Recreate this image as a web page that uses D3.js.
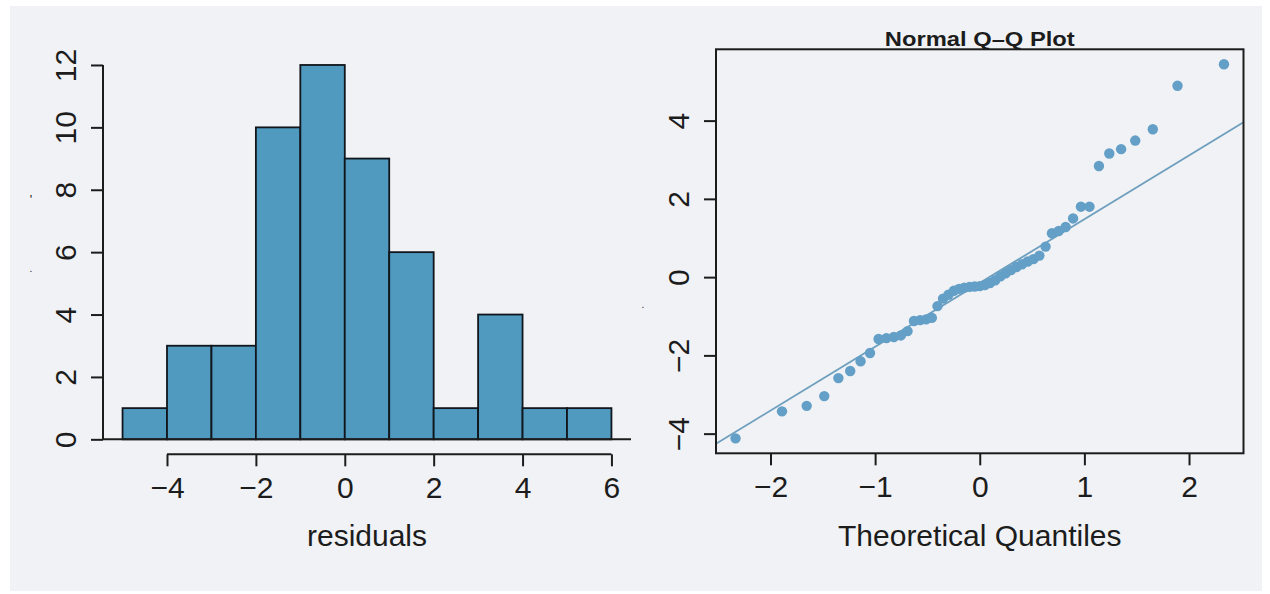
<!DOCTYPE html>
<html>
<head>
<meta charset="utf-8">
<script src="https://cdn.jsdelivr.net/npm/d3@7"></script>
<style>
  html, body { margin: 0; padding: 0; background: #ffffff; }
  svg { display: block; }
  text { font-family: "Liberation Sans", Arial, Helvetica, sans-serif; fill: #1c1c1c; }
</style>
</head>
<body>
<svg id="chart" width="1270" height="594"></svg>
<script>
// Histogram of residuals: bin edges and counts per bin
const binEdges = [-5, -4, -3, -2, -1, 0, 1, 2, 3, 4, 5, 6];
const binCounts = [1, 3, 3, 10, 12, 9, 6, 1, 4, 1, 1];
const histXTicks = [-4, -2, 0, 2, 4, 6];
const histYTicks = [0, 2, 4, 6, 8, 10, 12];

// Normal Q-Q plot: theoretical quantiles and sorted residuals
const qqTheoretical = [
  -2.334, -1.890, -1.654, -1.486, -1.351, -1.238, -1.139, -1.049, -0.967, -0.892,
  -0.821, -0.754, -0.690, -0.629, -0.570, -0.513, -0.458, -0.404, -0.351, -0.299,
  -0.248, -0.198, -0.148, -0.098, -0.049, 0.000, 0.049, 0.098, 0.148, 0.198,
  0.248, 0.299, 0.351, 0.404, 0.458, 0.513, 0.570, 0.629, 0.690, 0.754,
  0.821, 0.892, 0.967, 1.049, 1.139, 1.238, 1.351, 1.486, 1.654, 1.890, 2.334
];
const qqSample = [
  -4.12, -3.43, -3.29, -3.04, -2.58, -2.40, -2.15, -1.94, -1.58, -1.56,
  -1.53, -1.49, -1.38, -1.12, -1.10, -1.08, -1.04, -0.74, -0.55, -0.45,
  -0.35, -0.30, -0.27, -0.25, -0.24, -0.23, -0.20, -0.15, -0.08, 0.02,
  0.10, 0.18, 0.26, 0.33, 0.40, 0.46, 0.55, 0.78, 1.12, 1.18,
  1.28, 1.50, 1.80, 1.80, 2.84, 3.16, 3.27, 3.49, 3.78, 4.89, 5.44
];
const qqLine = { intercept: -0.15, slope: 1.63 };
const qqXTicks = [-2, -1, 0, 1, 2];
const qqYTicks = [-4, -2, 0, 2, 4];

const svg = d3.select("#chart");
const fmt = d3.format("");   // d3 v7 renders negatives with a true minus sign
const ink = "#1c1c1c";
const barFill = "#5099bf";
const pointFill = "#639fc6";
const lineColor = "#6e9fbf";
const tickFont = "30px";
const titleFont = "30px";

// Panel background
svg.append("rect")
  .attr("x", 10).attr("y", 6).attr("width", 1252).attr("height", 585)
  .attr("fill", "#f0f2f5");

// R-style 4% padded range
function padded(lo, hi) { const d = (hi - lo) * 0.04; return [lo - d, hi + d]; }

function styleTicks(g) {
  g.select(".domain").remove();
  g.selectAll(".tick line").attr("stroke", ink).attr("stroke-width", 2);
  g.selectAll(".tick text").attr("fill", ink).style("font-size", tickFont)
    .style("font-family", "'Liberation Sans', Arial, sans-serif");
}
function bottomLabels(g) {
  g.selectAll(".tick text").attr("dy", null).attr("y", 44);
}
function leftLabels(g) {
  g.selectAll(".tick text")
    .attr("x", null).attr("dy", null)
    .attr("text-anchor", "middle")
    .attr("transform", "translate(-27,0) rotate(-90)");
}

// ---------- Histogram ----------
const hx = d3.scaleLinear().domain(padded(binEdges[0], binEdges[binEdges.length - 1])).range([103, 631]);
const hy = d3.scaleLinear().domain(padded(0, d3.max(binCounts))).range([454.3, 50]);

const bins = binCounts.map((c, i) => ({ x0: binEdges[i], x1: binEdges[i + 1], n: c }));
const hist = svg.append("g");

hist.selectAll("rect.bar").data(bins).join("rect")
  .attr("class", "bar")
  .attr("x", d => hx(d.x0))
  .attr("y", d => hy(d.n))
  .attr("width", d => hx(d.x1) - hx(d.x0))
  .attr("height", d => hy(0) - hy(d.n))
  .attr("fill", barFill)
  .attr("stroke", "#10161c")
  .attr("stroke-width", 1.8);

// zero line across the plot region
hist.append("line")
  .attr("x1", hx.range()[0]).attr("x2", hx.range()[1])
  .attr("y1", hy(0)).attr("y2", hy(0))
  .attr("stroke", ink).attr("stroke-width", 2);

// x axis
const gHX = hist.append("g").attr("transform", `translate(0,${hy.range()[0]})`)
  .call(d3.axisBottom(hx).tickValues(histXTicks).tickSize(12).tickFormat(fmt));
styleTicks(gHX);
bottomLabels(gHX);
gHX.append("line")
  .attr("x1", hx(d3.min(histXTicks))).attr("x2", hx(d3.max(histXTicks)))
  .attr("stroke", ink).attr("stroke-width", 2);

// y axis
const gHY = hist.append("g").attr("transform", `translate(${hx.range()[0]},0)`)
  .call(d3.axisLeft(hy).tickValues(histYTicks).tickSize(12).tickFormat(fmt));
styleTicks(gHY);
leftLabels(gHY);
gHY.append("line")
  .attr("y1", hy(d3.min(histYTicks))).attr("y2", hy(d3.max(histYTicks)))
  .attr("stroke", ink).attr("stroke-width", 2);

hist.append("text")
  .attr("x", (hx(binEdges[0]) + hx(binEdges[binEdges.length - 1])) / 2)
  .attr("y", 546)
  .attr("text-anchor", "middle")
  .style("font-size", titleFont)
  .text("residuals");

// faint y-label remnants
svg.append("text").attr("x", 31).attr("y", 204).attr("text-anchor", "middle")
  .style("font-size", "13px").text("'");
svg.append("text").attr("x", 31).attr("y", 272).attr("text-anchor", "middle")
  .style("font-size", "10px").text(".");

// ---------- Normal Q-Q plot ----------
const qx = d3.scaleLinear().domain(padded(d3.min(qqTheoretical), d3.max(qqTheoretical))).range([716, 1243.5]);
const qy = d3.scaleLinear().domain(padded(d3.min(qqSample), d3.max(qqSample))).range([453.3, 49.3]);

const qq = svg.append("g");

qq.append("clipPath").attr("id", "qqclip").append("rect")
  .attr("x", qx.range()[0]).attr("y", qy.range()[1])
  .attr("width", qx.range()[1] - qx.range()[0])
  .attr("height", qy.range()[0] - qy.range()[1]);

const [lx0, lx1] = qx.domain();
qq.append("line")
  .attr("clip-path", "url(#qqclip)")
  .attr("x1", qx(lx0)).attr("y1", qy(qqLine.intercept + qqLine.slope * lx0))
  .attr("x2", qx(lx1)).attr("y2", qy(qqLine.intercept + qqLine.slope * lx1))
  .attr("stroke", lineColor).attr("stroke-width", 1.8);

qq.selectAll("circle").data(qqSample.map((s, i) => [qqTheoretical[i], s])).join("circle")
  .attr("cx", d => qx(d[0]))
  .attr("cy", d => qy(d[1]))
  .attr("r", 5.2)
  .attr("fill", pointFill);

// frame
qq.append("rect")
  .attr("x", qx.range()[0]).attr("y", qy.range()[1])
  .attr("width", qx.range()[1] - qx.range()[0])
  .attr("height", qy.range()[0] - qy.range()[1])
  .attr("fill", "none").attr("stroke", ink).attr("stroke-width", 2);

const gQX = qq.append("g").attr("transform", `translate(0,${qy.range()[0]})`)
  .call(d3.axisBottom(qx).tickValues(qqXTicks).tickSize(12).tickFormat(fmt));
const gQY = qq.append("g").attr("transform", `translate(${qx.range()[0]},0)`)
  .call(d3.axisLeft(qy).tickValues(qqYTicks).tickSize(12).tickFormat(fmt));
styleTicks(gQX);
styleTicks(gQY);
bottomLabels(gQX);
leftLabels(gQY);

qq.append("text")
  .attr("x", (qx.range()[0] + qx.range()[1]) / 2)
  .attr("y", 546)
  .attr("text-anchor", "middle")
  .style("font-size", titleFont)
  .text("Theoretical Quantiles");

qq.append("text")
  .attr("x", (qx.range()[0] + qx.range()[1]) / 2)
  .attr("y", 46)
  .attr("text-anchor", "middle")
  .style("font-size", "21px")
  .style("font-weight", "bold")
  .attr("textLength", 190)
  .attr("lengthAdjust", "spacingAndGlyphs")
  .text("Normal Q–Q Plot");

svg.append("text").attr("x", 643).attr("y", 308).attr("text-anchor", "middle")
  .style("font-size", "10px").text(".");
</script>
</body>
</html>
